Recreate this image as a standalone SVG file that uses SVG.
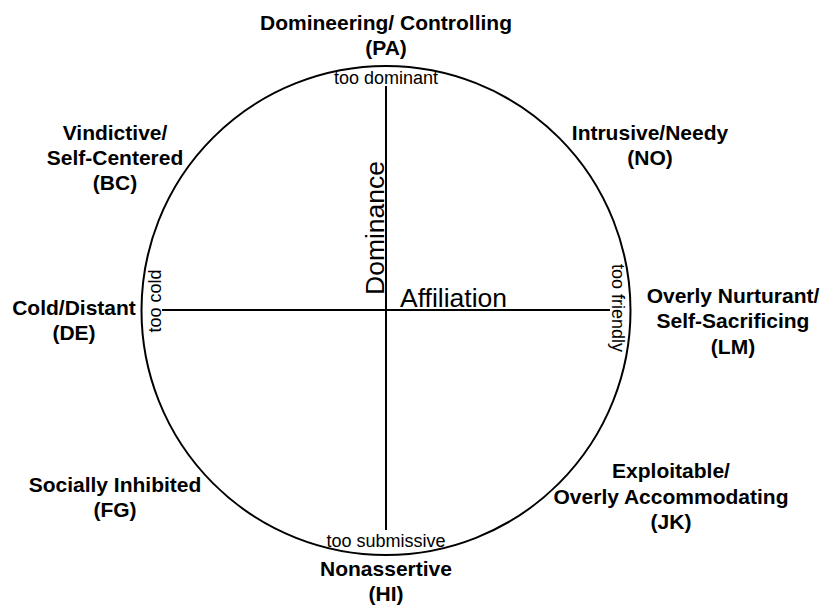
<svg xmlns="http://www.w3.org/2000/svg" width="822" height="605" viewBox="0 0 822 605">
  <style>
    .lbl { font-family: "Liberation Sans", Arial, sans-serif; font-weight: bold; font-size: 21px; fill: #000; text-anchor: middle; }
    .lim { font-family: "Liberation Sans", Arial, sans-serif; font-size: 18px; fill: #000; }
    .axis { font-family: "Liberation Sans", Arial, sans-serif; font-size: 26.5px; fill: #000; }
    .ln { stroke: #000; stroke-width: 2; fill: none; }
  </style>
  <rect width="822" height="605" fill="#fff"/>

  <!-- circumplex -->
  <g id="circle">
    <circle class="ln" cx="386" cy="310.5" r="244.5"/>
  </g>

  <!-- axes -->
  <g id="axes">
    <line class="ln" x1="386" y1="86" x2="386" y2="530"/>
    <line class="ln" x1="162" y1="310" x2="610" y2="310"/>
  </g>

  <!-- axis titles -->
  <g id="axis-dominance">
    <text class="axis" transform="translate(384 295) rotate(-90)">Dominance</text>
  </g>
  <g id="axis-affiliation">
    <text class="axis" x="400" y="307">Affiliation</text>
  </g>

  <!-- extreme markers -->
  <g id="too-dominant"><text class="lim" x="386" y="84" text-anchor="middle">too dominant</text></g>
  <g id="too-submissive"><text class="lim" x="386" y="547" text-anchor="middle">too submissive</text></g>
  <g id="too-cold"><text class="lim" text-anchor="middle" transform="translate(161 301) rotate(-90)">too cold</text></g>
  <g id="too-friendly"><text class="lim" text-anchor="middle" transform="translate(612 308) rotate(90)">too friendly</text></g>

  <!-- octant labels -->
  <g id="PA">
    <text class="lbl" x="386" y="30">Domineering/ Controlling</text>
    <text class="lbl" x="386" y="55">(PA)</text>
  </g>
  <g id="NO">
    <text class="lbl" x="650" y="140">Intrusive/Needy</text>
    <text class="lbl" x="650" y="165">(NO)</text>
  </g>
  <g id="LM">
    <text class="lbl" x="733" y="303">Overly Nurturant/</text>
    <text class="lbl" x="733" y="328">Self-Sacrificing</text>
    <text class="lbl" x="733" y="354">(LM)</text>
  </g>
  <g id="JK">
    <text class="lbl" x="671" y="478">Exploitable/</text>
    <text class="lbl" x="671" y="504">Overly Accommodating</text>
    <text class="lbl" x="671" y="529">(JK)</text>
  </g>
  <g id="HI">
    <text class="lbl" x="386" y="576">Nonassertive</text>
    <text class="lbl" x="386" y="601">(HI)</text>
  </g>
  <g id="FG">
    <text class="lbl" x="115" y="492">Socially Inhibited</text>
    <text class="lbl" x="115" y="517">(FG)</text>
  </g>
  <g id="DE">
    <text class="lbl" x="74" y="315">Cold/Distant</text>
    <text class="lbl" x="74" y="340">(DE)</text>
  </g>
  <g id="BC">
    <text class="lbl" x="115" y="140">Vindictive/</text>
    <text class="lbl" x="115" y="165">Self-Centered</text>
    <text class="lbl" x="115" y="190">(BC)</text>
  </g>
</svg>
